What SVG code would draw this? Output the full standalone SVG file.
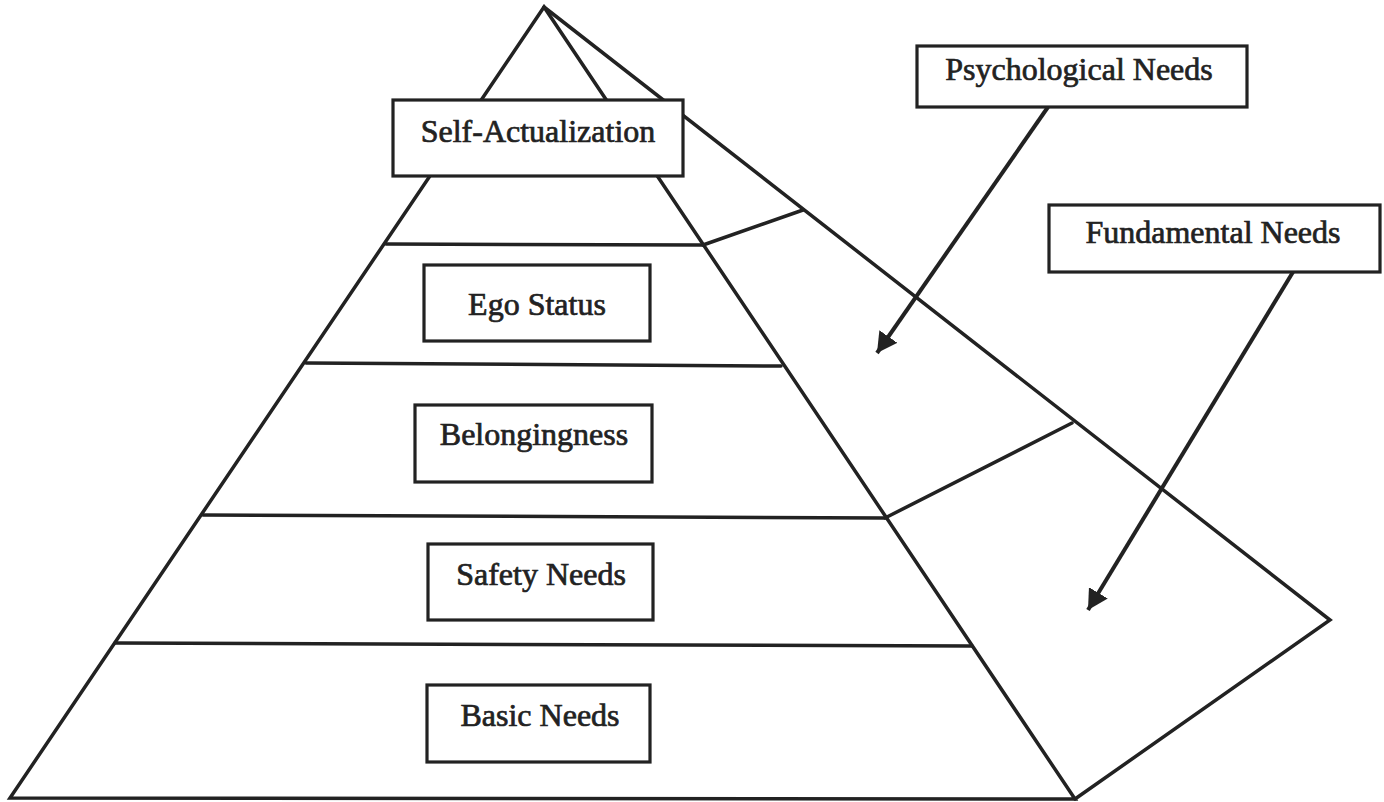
<svg xmlns="http://www.w3.org/2000/svg" width="1384" height="802" viewBox="0 0 1384 802">
<defs>
<style>
.edge{stroke:#222;stroke-width:3.5;fill:none;stroke-linejoin:miter;stroke-linecap:round}
.box{fill:#fff;stroke:#222;stroke-width:3.2}
.lbl{font-family:"Liberation Serif","Times New Roman",serif;font-size:32px;fill:#222;text-anchor:middle;stroke:#222;stroke-width:0.7}
.arrow{stroke:#222;stroke-width:4;fill:none}
</style>
<marker id="ah" viewBox="0 0 20 22" refX="20" refY="11" markerWidth="20" markerHeight="22" markerUnits="userSpaceOnUse" orient="auto">
<path d="M0,0 L20,11 L0,22 Z" fill="#222"/>
</marker>
</defs>
<rect width="1384" height="802" fill="#fff"/>
<g id="pyramid">
<polygon class="edge" points="544,7 10,798 1075,799"/>
<polyline class="edge" points="544,7 1330,620 1075,799"/>
<line class="edge" x1="386" y1="244" x2="703" y2="245"/>
<line class="edge" x1="306" y1="363" x2="781" y2="366"/>
<line class="edge" x1="203" y1="515" x2="885" y2="518"/>
<line class="edge" x1="115" y1="643" x2="972" y2="646"/>
<line class="edge" x1="703" y1="245" x2="803" y2="210"/>
<line class="edge" x1="885" y1="518" x2="1072" y2="423"/>
</g>
<g id="connectors">
<line class="arrow" x1="1048" y1="107" x2="877" y2="353" marker-end="url(#ah)"/>
<line class="arrow" x1="1293" y1="272" x2="1088" y2="610" marker-end="url(#ah)"/>
</g>
<g id="self-actualization">
<rect class="box" x="393" y="100" width="290" height="76"/>
<text class="lbl" x="538" y="142">Self-Actualization</text>
</g>
<g id="ego-status">
<rect class="box" x="424" y="265" width="226" height="76"/>
<text class="lbl" x="537" y="315">Ego Status</text>
</g>
<g id="belongingness">
<rect class="box" x="415" y="405" width="237" height="77"/>
<text class="lbl" x="534" y="445">Belongingness</text>
</g>
<g id="safety-needs">
<rect class="box" x="428" y="544" width="225" height="76"/>
<text class="lbl" x="541" y="585">Safety Needs</text>
</g>
<g id="basic-needs">
<rect class="box" x="427" y="685" width="223" height="77"/>
<text class="lbl" x="540" y="726">Basic Needs</text>
</g>
<g id="psychological-needs">
<rect class="box" x="917" y="46" width="330" height="61"/>
<text class="lbl" x="1079" y="80">Psychological Needs</text>
</g>
<g id="fundamental-needs">
<rect class="box" x="1049" y="205" width="331" height="67"/>
<text class="lbl" x="1213" y="243">Fundamental Needs</text>
</g>
</svg>
